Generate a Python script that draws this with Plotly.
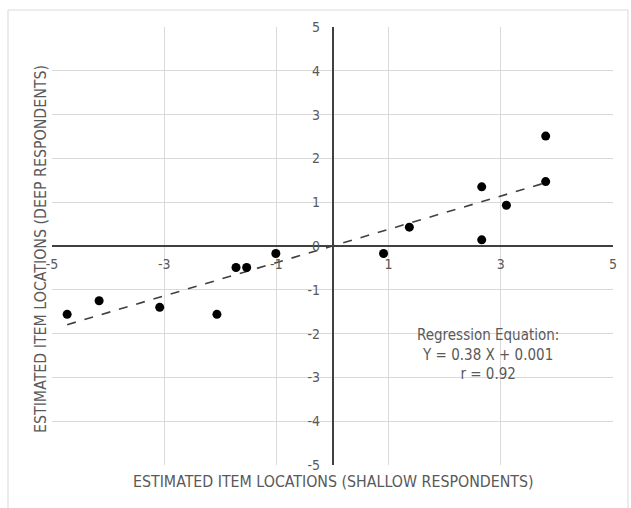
import plotly.graph_objects as go

# Data
shallow = [-4.73, -4.16, -3.08, -2.06, -1.72, -1.53, -1.01, 0.91, 1.37, 2.66, 2.66, 3.10, 3.80, 3.80]
deep = [-1.56, -1.25, -1.40, -1.56, -0.49, -0.49, -0.17, -0.17, 0.43, 1.35, 0.14, 0.93, 2.51, 1.47]
slope = 0.38
intercept = 0.001
r_value = 0.92
x_ticks = [-5, -3, -1, 1, 3, 5]
y_ticks = [-5, -4, -3, -2, -1, 0, 1, 2, 3, 4, 5]
x_title = "ESTIMATED ITEM LOCATIONS (SHALLOW RESPONDENTS)"
y_title = "ESTIMATED ITEM LOCATIONS (DEEP RESPONDENTS)"

FONT = "Liberation Sans Narrow, Arial Narrow, DejaVu Sans Condensed, sans-serif"
GRAY = "#595959"

W, H = 631, 508
L, R, T, B = 52, 18, 27, 43
pw, ph = W - L - R, H - T - B

fig = go.Figure()

xmin, xmax = min(shallow), max(shallow)
fig.add_trace(go.Scatter(
    x=[xmin, xmax], y=[slope * xmin + intercept, slope * xmax + intercept],
    mode="lines", line=dict(color="#404040", width=1.6, dash="dash"),
    hoverinfo="skip", showlegend=False))

fig.add_trace(go.Scatter(
    x=shallow, y=deep, mode="markers",
    marker=dict(color="black", size=9),
    showlegend=False))

fig.update_xaxes(range=[-5, 5], tickvals=x_ticks, ticktext=[str(v) for v in x_ticks],
                 showgrid=True, gridcolor="#d9d9d9", gridwidth=1,
                 zeroline=False, showline=True, linecolor="#404040", linewidth=1.5,
                 anchor="free", position=0.5, ticks="", automargin=False,
                 ticklabelstandoff=5,
                 tickfont=dict(family=FONT, size=14, color=GRAY))
fig.update_yaxes(range=[-5, 5], tickvals=y_ticks, ticktext=[str(v) for v in y_ticks],
                 showgrid=True, gridcolor="#d9d9d9", gridwidth=1,
                 zeroline=False, showline=True, linecolor="#404040", linewidth=1.5,
                 anchor="free", position=0.5, ticks="", automargin=False,
                 ticklabelstandoff=9,
                 tickfont=dict(family=FONT, size=14, color=GRAY))

# outer chart border
fig.add_shape(type="rect", xref="paper", yref="paper",
              x0=(8 - L) / pw, x1=(628 - L) / pw,
              y0=(H - B - (H + 5)) / ph,
              y1=(H - B - 10) / ph,
              line=dict(color="#d9d9d9", width=1), fillcolor="rgba(0,0,0,0)", layer="below")

fig.add_annotation(text=x_title, xref="paper", yref="paper",
                   x=(333 - L) / pw, y=(H - B - 481) / ph, showarrow=False,
                   xanchor="center", yanchor="middle",
                   font=dict(family=FONT, size=15.8, color=GRAY))
fig.add_annotation(text=y_title, xref="paper", yref="paper",
                   x=(40 - L) / pw, y=(H - B - 249) / ph, showarrow=False, textangle=-90,
                   xanchor="center", yanchor="middle",
                   font=dict(family=FONT, size=15.8, color=GRAY))

eq_text = ("Regression Equation:<br>Y = %.2f X + %.3f<br>r = %.2f" % (slope, intercept, r_value))
fig.add_annotation(text=eq_text, xref="x", yref="y", x=2.77, y=-2.47,
                   showarrow=False, align="center", xanchor="center", yanchor="middle",
                   font=dict(family=FONT, size=15, color=GRAY))

fig.update_layout(width=W, height=H, margin=dict(l=L, r=R, t=T, b=B),
                  plot_bgcolor="white", paper_bgcolor="white")

fig.write_html("out.html", config={"displayModeBar": False},
               post_script="document.body.style.margin='0';document.body.style.overflow='hidden';")
